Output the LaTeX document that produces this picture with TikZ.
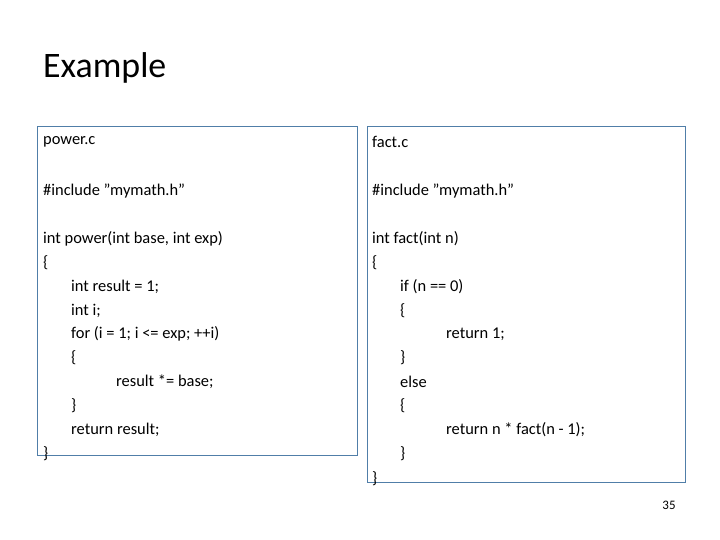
\documentclass[tikz,border=0pt]{standalone}
\usepackage{fontspec}
\setmainfont{Carlito}
\begin{document}
\begin{tikzpicture}[x=1bp,y=-1bp,
  code/.style={anchor=west,inner sep=0pt,font=\fontsize{16.5}{18}\selectfont,text=black},
  box/.style={draw={rgb,255:red,80;green,126;blue,168},line width=0.8bp}]
\useasboundingbox (0,0) rectangle (720,540);
\draw[box] (37,126) rectangle (357,455);
\draw[box] (367,126) rectangle (685,482);
\node[anchor=west,inner sep=0pt,font=\fontsize{36}{40}\selectfont] (title) at (43,68) {Example};
\foreach \t/\x/\y [count=\i] in {
 power.c/43/142, {\#include "mymath.h"}/43/191, {int power(int base, int exp)}/43/239,
 \{/43/263, {int result = 1;}/71/287, {int i;}/71/311, {for (i = 1; i <= exp; ++i)}/71/334,
 \{/71/358, {result *= base;}/116/382, \}/71/406, {return result;}/71/430, \}/43/454,
 fact.c/372/142, {\#include "mymath.h"}/372/191, {int fact(int n)}/372/239, \{/372/263,
 {if (n == 0)}/400/287, \{/400/311, {return 1;}/446/334, \}/400/358, else/400/382,
 \{/400/406, {return n * fact(n - 1);}/446/430, \}/400/454, \}/372/479}
 \node[code] (l\i) at (\x,\y) {\t};
\node[anchor=center,inner sep=0pt,font=\fontsize{13}{14}\selectfont] (pg) at (669,505) {35};
\end{tikzpicture}
\end{document}
